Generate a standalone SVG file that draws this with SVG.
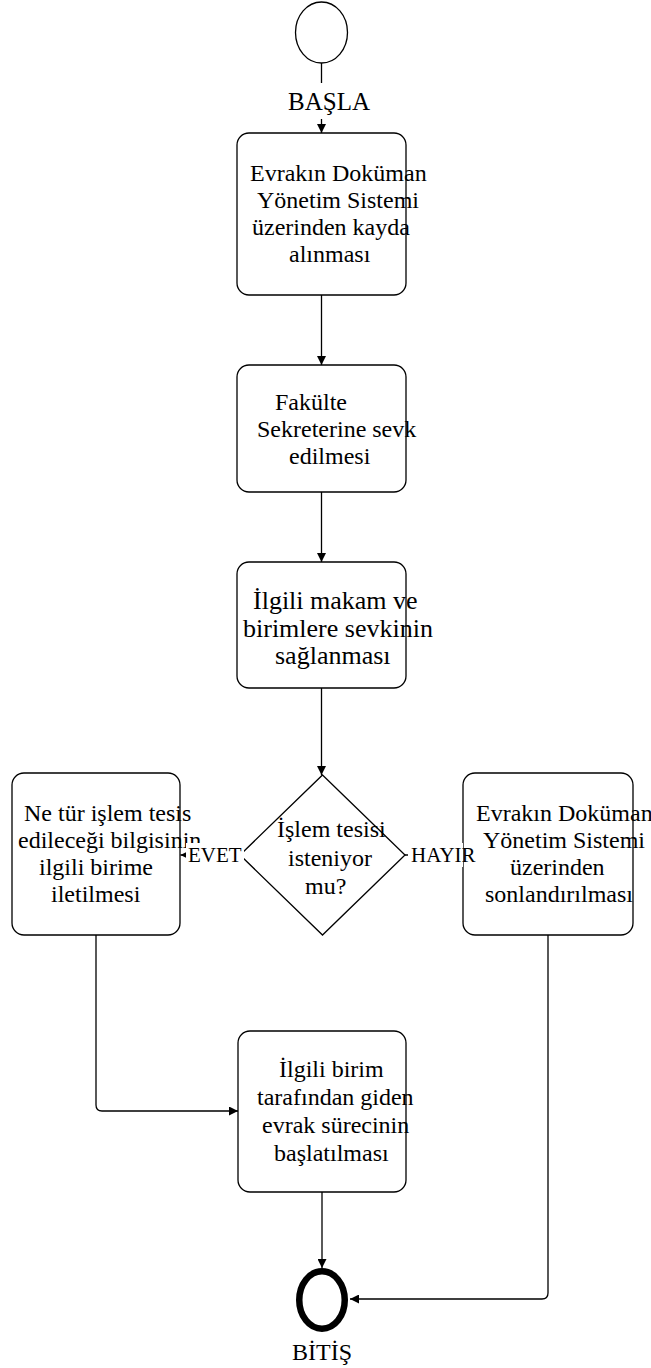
<svg xmlns="http://www.w3.org/2000/svg" width="651" height="1368" viewBox="0 0 651 1368">
<defs>
<style>
.box{fill:#fff;stroke:#000;stroke-width:1.3}
.t{font-family:"Liberation Serif","Times New Roman",serif;font-size:24px;fill:#000}
.t26{font-family:"Liberation Serif","Times New Roman",serif;font-size:26px;fill:#000}
.lbl{font-family:"Liberation Serif","Times New Roman",serif;font-size:21px;fill:#000}
.edge{fill:none;stroke:#000;stroke-width:1.3}
</style>
<marker id="arr" viewBox="0 0 10 10" refX="10" refY="5" markerWidth="11" markerHeight="9" markerUnits="userSpaceOnUse" orient="auto">
<path d="M0,0 L10,5 L0,10 Z" fill="#000"/>
</marker>
</defs>
<rect width="651" height="1368" fill="#fff"/>

<g id="start">
<ellipse cx="321.5" cy="32.5" rx="26" ry="30.5" fill="#fff" stroke="#000" stroke-width="1.3"/>
</g>

<g id="box1">
<rect class="box" x="237" y="133" width="169" height="162" rx="12"/>
<text class="t" x="250" y="181">Evrakın Doküman</text>
<text class="t" x="257" y="208">Yönetim Sistemi</text>
<text class="t" x="252" y="235">üzerinden kayda</text>
<text class="t" x="289" y="262">alınması</text>
</g>

<g id="box2">
<rect class="box" x="237" y="365" width="169" height="127" rx="12"/>
<text class="t" x="275" y="410">Fakülte</text>
<text class="t" x="257" y="437">Sekreterine sevk</text>
<text class="t" x="289" y="464">edilmesi</text>
</g>

<g id="box3">
<rect class="box" x="237" y="562" width="169" height="126" rx="12"/>
<text class="t26" x="253" y="609">İlgili makam ve</text>
<text class="t26" x="243" y="637">birimlere sevkinin</text>
<text class="t26" x="275" y="664">sağlanması</text>
</g>

<g id="decision">
<polygon points="322.5,775 405,855 322.5,935 240,855" fill="#fff" stroke="#000" stroke-width="1.3"/>
<text class="t" x="277" y="837">İşlem tesisi</text>
<text class="t" x="288" y="866">isteniyor</text>
<text class="t" x="305" y="894">mu?</text>
</g>

<g id="boxLeft">
<rect class="box" x="12" y="773" width="168" height="162" rx="12"/>
<text class="t" x="24" y="821">Ne tür işlem tesis</text>
<text class="t" x="18" y="848">edileceği bilgisinin</text>
<text class="t" x="39" y="875">ilgili birime</text>
<text class="t" x="51" y="902">iletilmesi</text>
</g>

<g id="boxRight">
<rect class="box" x="463" y="773" width="170" height="162" rx="12"/>
<text class="t" x="476" y="821">Evrakın Doküman</text>
<text class="t" x="483" y="848">Yönetim Sistemi</text>
<text class="t" x="510" y="875">üzerinden</text>
<text class="t" x="485" y="902">sonlandırılması</text>
</g>

<g id="box5">
<rect class="box" x="238" y="1031" width="168" height="161" rx="12"/>
<text class="t" x="279" y="1077">İlgili birim</text>
<text class="t" x="257" y="1105">tarafından giden</text>
<text class="t" x="262" y="1133">evrak sürecinin</text>
<text class="t" x="274" y="1161">başlatılması</text>
</g>

<g id="end">
<ellipse cx="322" cy="1300" rx="22.75" ry="28.75" fill="#fff" stroke="#000" stroke-width="6.5"/>
<text class="t" x="322" y="1360" text-anchor="middle">BİTİŞ</text>
</g>

<g id="connectors">
<line class="edge" x1="321.5" y1="63" x2="321.5" y2="133" marker-end="url(#arr)"/>
<rect x="284" y="83" width="90" height="36" fill="#fff"/>
<text class="t" x="329" y="110" text-anchor="middle" style="font-size:25px">BAŞLA</text>
<line class="edge" x1="321.5" y1="295" x2="321.5" y2="365" marker-end="url(#arr)"/>
<line class="edge" x1="321.5" y1="492" x2="321.5" y2="562" marker-end="url(#arr)"/>
<line class="edge" x1="321.5" y1="688" x2="321.5" y2="775" marker-end="url(#arr)"/>
<line class="edge" x1="240" y1="855" x2="180.5" y2="855" marker-end="url(#arr)"/>
<rect x="186" y="843" width="58" height="24" fill="#fff"/>
<text class="lbl" x="188" y="862">EVET</text>
<line class="edge" x1="405" y1="855" x2="463" y2="855" marker-end="url(#arr)"/>
<rect x="408" y="843" width="55" height="24" fill="#fff"/>
<text class="lbl" x="411" y="862">HAYIR</text>
<path class="edge" d="M96,935 V1105 Q96,1111 102,1111 H238" marker-end="url(#arr)"/>
<path class="edge" d="M548,935 V1293 Q548,1299 542,1299 H350" marker-end="url(#arr)"/>
<line class="edge" x1="322" y1="1192" x2="322" y2="1268" marker-end="url(#arr)"/>
</g>
</svg>
